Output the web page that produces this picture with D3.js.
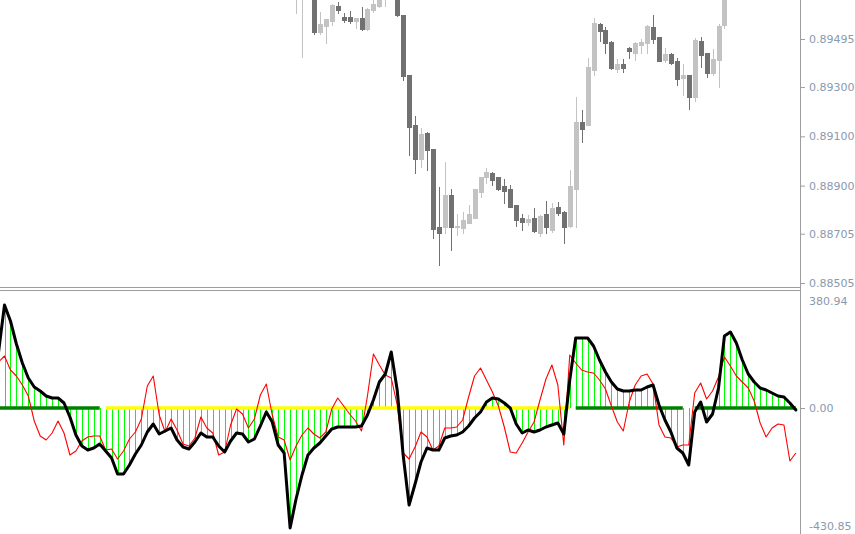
<!DOCTYPE html>
<html><head><meta charset="utf-8">
<script src="https://cdn.jsdelivr.net/npm/d3@7/dist/d3.min.js"></script>
<style>html,body{margin:0;padding:0;background:#fff;overflow:hidden}</style>
</head><body>
<svg id="chart" width="855" height="534"></svg>
<script>
// ---------------- data ----------------
// indicator main line (black) and histogram, one value per bar (bars 0..134)
const mainLine = [196, 360.5, 304.5, 224, 157.5, 105, 73.5, 59.5, 42, 35,
 35, 17.5, -31.5, -94.5, -133, -147, -140, -126, -150.5, -175,
 -231, -231, -199.5, -161, -129.5, -84, -56, -91, -80.5, -70,
 -112, -136.5, -143.5, -119, -87.5, -101.5, -101.5, -133, -154, -115.5,
 -87.5, -91, -119, -108.5, -63, -14, -49, -129.5, -157.5, -420,
 -318.5, -234.5, -164.5, -140, -122.5, -98, -73.5, -66.5, -66.5, -66.5,
 -66.5, -63, -24.5, 28, 91, 119, 196, 63, -164.5, -339.5,
 -266, -189, -140, -147, -147, -105, -98, -94.5, -84, -63,
 -35, -14, 21, 35, 31.5, 17.5, 0, -56, -87.5, -77,
 -84, -77, -66.5, -59.5, -52.5, -91, 98, 245, 245, 245,
 217, 168, 126, 91, 66.5, 59.5, 59.5, 63, 63, 73.5,
 80.5, 10.5, -42, -84, -140, -157.5, -199.5, -14, 21, -49,
 -21, 70, 252, 266, 227.5, 168, 119, 91, 70, 63,
 52.5, 42, 38.5, 17.5, -7];
// signal line (red)
const signalLine = [161, 182, 133, 112, 80.5, 42, -45.5, -98, -112, -87.5,
 -45.5, -87.5, -164.5, -150.5, -115.5, -101.5, -98, -98, -147, -143.5,
 -178.5, -150.5, -108.5, -84, -38.5, 77, 112, -24.5, -84, -38.5,
 -77, -126, -133, -105, -31.5, -70, -87.5, -164.5, -154, -59.5,
 -3.5, -21, -70, -38.5, 45.5, 84, -24.5, -101.5, -112, -182,
 -133, -94.5, -70, -91, -105, -84, -3.5, 35, 7, -21,
 -45.5, -80.5, 42, 189, 150.5, 115.5, 105, 10.5, -157.5, -178.5,
 -136.5, -84, -101.5, -147, -133, -70, -70, -66.5, -42, 38.5,
 112, 140, 98, 56, 7, -66.5, -154, -157.5, -122.5, -84,
 -49, 28, 101.5, 150.5, 80.5, -129.5, 185.5, 157.5, 133, 126,
 122.5, 98, 66.5, 7, -49, -80.5, 21, 80.5, 112, 119,
 84, -59.5, -101.5, -105, -136.5, -129.5, -129.5, 52.5, 87.5, 31.5,
 59.5, 108.5, 178.5, 147, 112, 91, 70, 24.5, -52.5, -101.5,
 -70, -56, -59.5, -185.5, -157.5];
// zero-line state segments (bar ranges) : 1 = trend (green), 2 = flat (yellow)
const zeroSegStart = [0, 18, 97, 117];
const zeroSegEnd   = [17, 96, 115, 134];
const zeroSegState = [1, 2, 1, 1];

// candles: bars 50..122 (bars outside are above the visible price range)
const firstCandleBar = 50;
const candleOpen = [0.89674,0.89665,0.89702,0.89670,0.89523,0.89548,0.89568,0.89629,0.89584,0.89584,
 0.89568,0.89580,0.89536,0.89613,0.89629,0.89661,0.89686,0.89702,0.89592,0.89349,
 0.89146,0.89008,0.89114,0.89049,0.88732,0.88732,0.88862,0.88731,0.88728,0.88750,
 0.88770,0.88875,0.88936,0.88953,0.88934,0.88899,0.88885,0.88821,0.88770,0.88754,
 0.88767,0.88707,0.88784,0.88720,0.88812,0.88794,0.88736,0.88885,0.89159,0.89146,
 0.89369,0.89556,0.89531,0.89484,0.89373,0.89394,0.89457,0.89437,0.89471,0.89480,
 0.89542,0.89502,0.89410,0.89434,0.89406,0.89336,0.89349,0.89261,0.89488,0.89437,
 0.89356,0.89410,0.89552];
const candleHigh = [0.89734,0.89726,0.89714,0.89678,0.89605,0.89578,0.89637,0.89645,0.89600,0.89609,
 0.89582,0.89625,0.89619,0.89657,0.89686,0.89714,0.89743,0.89718,0.89594,0.89350,
 0.89183,0.89134,0.89116,0.89050,0.88895,0.88996,0.88886,0.88785,0.88793,0.88821,
 0.88887,0.88935,0.88970,0.88955,0.88936,0.88926,0.88903,0.88822,0.88785,0.88781,
 0.88808,0.88781,0.88838,0.88828,0.88835,0.88796,0.88963,0.89261,0.89207,0.89417,
 0.89579,0.89559,0.89545,0.89485,0.89413,0.89413,0.89464,0.89484,0.89494,0.89550,
 0.89592,0.89503,0.89457,0.89437,0.89417,0.89394,0.89350,0.89498,0.89502,0.89438,
 0.89453,0.89556,0.89702];
const candleLow = [0.89600,0.89422,0.89657,0.89515,0.89515,0.89479,0.89552,0.89600,0.89564,0.89560,
 0.89540,0.89531,0.89531,0.89605,0.89625,0.89629,0.89665,0.89590,0.89329,0.89024,
 0.88951,0.88976,0.88963,0.88688,0.88578,0.88708,0.88639,0.88700,0.88708,0.88747,
 0.88767,0.88855,0.88910,0.88903,0.88882,0.88831,0.88814,0.88736,0.88720,0.88740,
 0.88713,0.88696,0.88709,0.88713,0.88781,0.88667,0.88733,0.88733,0.89078,0.89145,
 0.89349,0.89488,0.89437,0.89375,0.89362,0.89362,0.89417,0.89410,0.89437,0.89437,
 0.89480,0.89405,0.89403,0.89394,0.89308,0.89268,0.89210,0.89243,0.89383,0.89342,
 0.89349,0.89299,0.89538];
const candleClose = [0.89714,0.89702,0.89665,0.89523,0.89556,0.89576,0.89633,0.89613,0.89572,0.89568,
 0.89580,0.89536,0.89617,0.89637,0.89674,0.89694,0.89726,0.89592,0.89345,0.89138,
 0.89008,0.89110,0.89045,0.88724,0.88708,0.88862,0.88732,0.88736,0.88761,0.88784,
 0.88885,0.88934,0.88957,0.88923,0.88885,0.88880,0.88815,0.88761,0.88754,0.88765,
 0.88717,0.88777,0.88731,0.88808,0.88790,0.88732,0.88897,0.89159,0.89129,0.89383,
 0.89559,0.89527,0.89480,0.89376,0.89394,0.89376,0.89448,0.89480,0.89484,0.89548,
 0.89494,0.89406,0.89434,0.89396,0.89331,0.89349,0.89261,0.89491,0.89430,0.89358,
 0.89413,0.89548,0.89686];

// axis tick labels
const priceTicks = [0.89495, 0.89300, 0.89100, 0.88900, 0.88705, 0.88505];
const indTicks = [380.94, 0.00, -430.85];

// ---------------- drawing ----------------
const svg = d3.select('#chart');
const axisX = 800;
const nBars = mainLine.length;
const x = d3.scaleLinear().domain([0, nBars - 1]).range([-1.45, 795.85]);
const yPrice = d3.scaleLinear().domain([0.88505, 0.89495]).range([283, 39]);
const yInd = d3.scaleLinear().domain([-430.85, 380.94]).range([408 + 430.85 / 3.5, 408 - 380.94 / 3.5]);

const defs = svg.append('defs');
defs.append('clipPath').attr('id', 'clipTop').append('rect')
  .attr('x', 0).attr('y', 0).attr('width', axisX).attr('height', 287);
defs.append('clipPath').attr('id', 'clipBot').append('rect')
  .attr('x', 0).attr('y', 291).attr('width', axisX).attr('height', 243);

// ---- candles
const gC = svg.append('g').attr('clip-path', 'url(#clipTop)');
const candles = candleOpen.map((o, k) => ({
  bar: firstCandleBar + k, o, h: candleHigh[k], l: candleLow[k], c: candleClose[k]
}));
const upCol = '#c3c3c3', dnCol = '#717171';
candles.forEach(d => {
  const cx = Math.round(x(d.bar));
  const col = d.c >= d.o ? upCol : dnCol;
  gC.append('line')
    .attr('x1', cx + 0.5).attr('x2', cx + 0.5)
    .attr('y1', Math.round(yPrice(d.h))).attr('y2', Math.round(yPrice(d.l)) + 1)
    .attr('stroke', col).attr('stroke-width', 1);
  const yt = Math.round(yPrice(Math.max(d.o, d.c)));
  const yb = Math.round(yPrice(Math.min(d.o, d.c)));
  gC.append('rect')
    .attr('x', cx - 2).attr('width', 5)
    .attr('y', yt).attr('height', Math.max(1, yb - yt + 1))
    .attr('fill', col).attr('shape-rendering', 'crispEdges');
});

// ---- indicator
const gI = svg.append('g').attr('clip-path', 'url(#clipBot)');
const y0 = yInd(0);
gI.selectAll('line.hist').data(mainLine).enter().append('line')
  .attr('class', 'hist')
  .attr('x1', (d, i) => Math.round(x(i)) + 0.5).attr('x2', (d, i) => Math.round(x(i)) + 0.5)
  .attr('y1', y0).attr('y2', d => Math.round(yInd(d)))
  .attr('stroke', '#00ff00').attr('stroke-width', 1)
  .attr('shape-rendering', 'crispEdges');

const stateColor = {1: '#008000', 2: '#ffff00'};
zeroSegStart.forEach((s, k) => {
  gI.append('line')
    .attr('x1', x(s)).attr('x2', x(zeroSegEnd[k]))
    .attr('y1', y0).attr('y2', y0)
    .attr('stroke', stateColor[zeroSegState[k]]).attr('stroke-width', 3.5);
});

const line = d3.line().x((d, i) => x(i)).y(d => yInd(d));
gI.append('path').datum(signalLine).attr('d', line)
  .attr('fill', 'none').attr('stroke', '#ff0000').attr('stroke-width', 1.1)
  .attr('stroke-linejoin', 'round');
gI.append('path').datum(mainLine).attr('d', line)
  .attr('fill', 'none').attr('stroke', '#000').attr('stroke-width', 3)
  .attr('stroke-linejoin', 'round').attr('stroke-linecap', 'round');

// ---- frame
const frameCol = '#9e9e9e';
svg.append('line').attr('x1', 0).attr('x2', axisX + 1).attr('y1', 287.5).attr('y2', 287.5)
  .attr('stroke', frameCol);
svg.append('line').attr('x1', 0).attr('x2', axisX + 1).attr('y1', 290.5).attr('y2', 290.5)
  .attr('stroke', frameCol);
svg.append('line').attr('x1', axisX + 0.5).attr('x2', axisX + 0.5).attr('y1', 0).attr('y2', 534)
  .attr('stroke', frameCol);

// ---- axes
const labelCol = '#8a99ae';
const gPA = svg.append('g').attr('transform', `translate(${axisX + 1},0)`)
  .call(d3.axisRight(yPrice).tickValues(priceTicks).tickFormat(d => d.toFixed(5))
    .tickSize(4).tickPadding(4));
const gIA = svg.append('g').attr('transform', `translate(${axisX + 1},0)`)
  .call(d3.axisRight(yInd).tickValues(indTicks).tickFormat(d => d.toFixed(2))
    .tickSize(4).tickPadding(4));
[gPA, gIA].forEach(g => {
  g.select('.domain').remove();
  g.selectAll('.tick line').attr('stroke', frameCol);
  g.selectAll('.tick text').attr('fill', labelCol)
    .style('font-family', '"DejaVu Sans", sans-serif').style('font-size', '11px');
});
gIA.selectAll('.tick').each(function (d) {
  const t = d3.select(this);
  if (d !== 0) {
    t.select('line').remove();
    t.select('text').attr('y', d > 0 ? 2 : -5);
  }
});
</script>
</body></html>
